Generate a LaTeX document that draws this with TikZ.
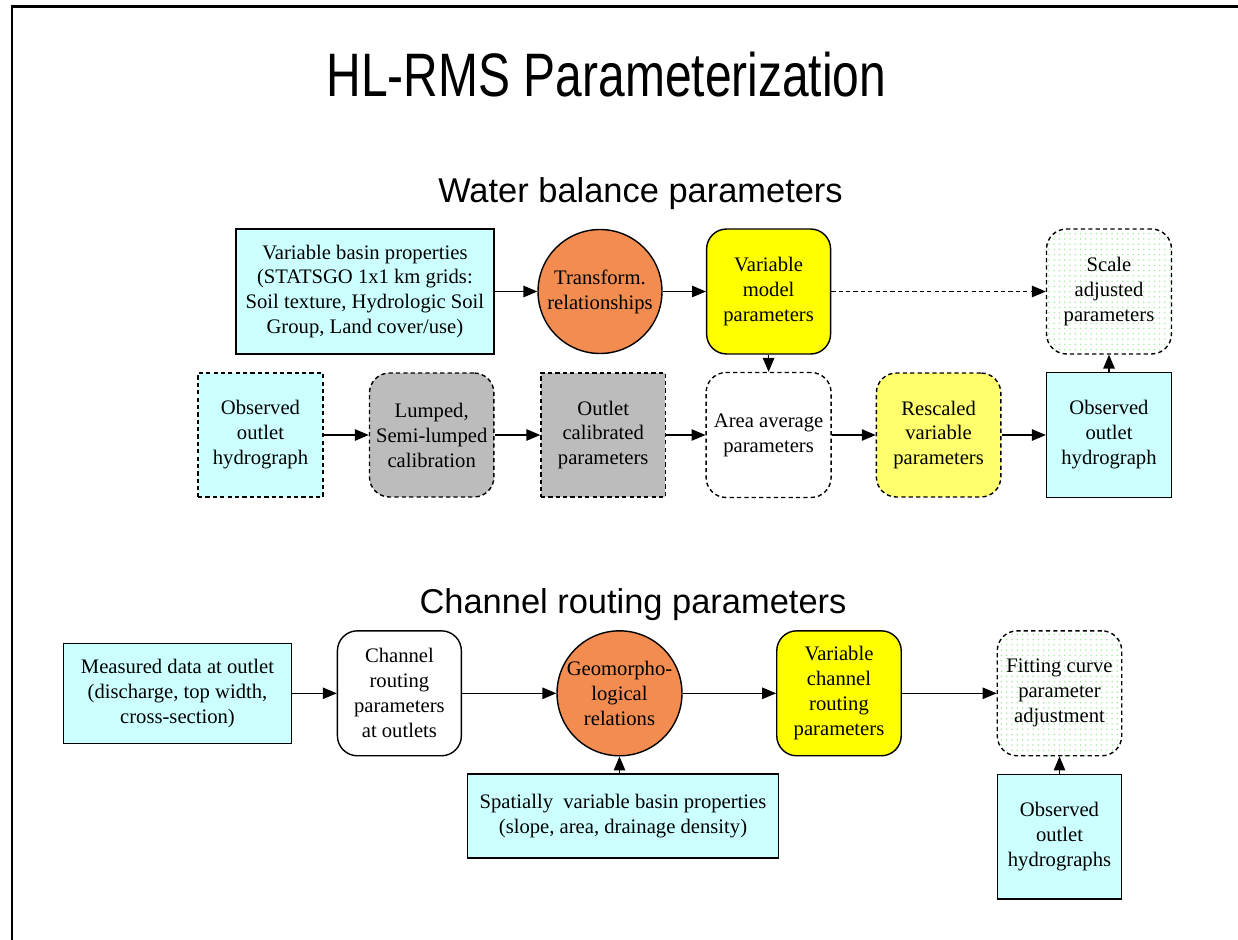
\documentclass[tikz,border=0pt]{standalone}
\usepackage{fontspec}
\setmainfont{Liberation Serif}
\newfontfamily\headfont{Liberation Sans}
\usetikzlibrary{arrows,patterns,calc}
\definecolor{box_cyan}{RGB}{204,255,255}
\definecolor{circ_orange}{RGB}{242,140,80}
\definecolor{calib_grey}{RGB}{188,188,188}
\definecolor{par_yellow}{RGB}{255,255,0}
\definecolor{res_yellow}{RGB}{255,255,110}
\definecolor{dot_green}{RGB}{170,235,170}
\tikzstyle{txt}=[align=center,inner sep=0pt,line width=0.8pt,draw=black,
  font=\fontsize{11.75}{14.2}\selectfont]
\tikzstyle{prop}=[txt,rectangle,fill=box_cyan]
\tikzstyle{rel}=[txt,circle,fill=circ_orange,minimum size=2.48cm]
\tikzstyle{par}=[txt,rectangle,rounded corners=0.4cm,fill=par_yellow,
  minimum width=2.48cm,minimum height=2.5cm]
\tikzstyle{dsh}=[dash pattern=on 2.4pt off 1.8pt]
\tikzstyle{adj}=[txt,dsh,rectangle,rounded corners=0.4cm,pattern=dots,
  pattern color=dot_green,minimum width=2.5cm,minimum height=2.5cm]
\tikzstyle{head}=[font=\headfont\fontsize{19.6}{24}\selectfont,anchor=base]
\tikzstyle{none}=[]

\begin{document}
\begin{tikzpicture}[x=0.02cm,y=-0.02cm,>=triangle 45,line width=0.8pt]
        \useasboundingbox (0,0) rectangle (1238,940);
        \draw [line width=1.5pt] (12,940) -- (12,6.5) -- (1238,6.5);
        % titles
        \node [style=head,font=\headfont\fontsize{27.3}{32}\selectfont] (17) at (606.5,96.7)
          {\scalebox{1}[1.28]{HL-RMS Parameterization}};
        \node [style=head] (18) at (640.5,202) {Water balance parameters};
        \node [style=head] (19) at (633,613) {Channel routing parameters};
        % water balance
        \node [style=prop,minimum width=5.16cm,minimum height=2.5cm] (0) at (364.9,291.5)
          {Variable basin properties\\(STATSGO 1x1 km grids:\\Soil texture, Hydrologic Soil\\Group, Land cover/use)};
        \node [style=rel] (1) at (600,291.5) {Transform.\\relationships};
        \node [style=par] (2) at (768.6,291.5) {Variable\\model\\parameters};
        \node [style=adj] (3) at (1109,291.5) {Scale\\adjusted\\parameters};
        \node [style=prop,dsh,minimum width=2.5cm,minimum height=2.48cm] (4) at (260.5,435) {Observed\\outlet\\hydrograph};
        \node [style=txt,dsh,rounded corners=0.4cm,fill=calib_grey,minimum width=2.49cm,minimum height=2.48cm] (5) at (431.7,435)
          {Lumped,\\Semi-lumped\\calibration};
        \node [style=txt,dsh,fill=calib_grey,minimum width=2.49cm,minimum height=2.48cm] (6) at (603.2,435)
          {Outlet\\calibrated\\parameters};
        \node [style=txt,dsh,rounded corners=0.4cm,minimum width=2.5cm,minimum height=2.5cm] (7) at (768.6,435)
          {Area average\\parameters};
        \node [style=par,dsh,fill=res_yellow,minimum width=2.49cm,minimum height=2.48cm] (8) at (938.6,435) {Rescaled\\variable\\parameters};
        \node [style=prop,minimum width=2.5cm,minimum height=2.5cm] (9) at (1109,435) {Observed\\outlet\\hydrograph};
        \draw [->] (0) to (1);
        \draw [->] (1) to (2);
        \draw [->,dsh] (2) to (3);
        \draw [->] (2) to (7);
        \draw [->] (4) to (5);
        \draw [->] (5) to (6);
        \draw [->] (6) to (7);
        \draw [->] (7) to (8);
        \draw [->] (8) to (9);
        \draw [->] (9) to (3);
        % channel routing
        \node [style=prop,minimum width=4.57cm,minimum height=2cm] (10) at (177.5,693.3)
          {Measured data at outlet\\(discharge, top width,\\cross-section)};
        \node [style=txt,rounded corners=0.4cm,minimum width=2.48cm,minimum height=2.5cm] (11) at (399.4,693.3)
          {Channel\\routing\\parameters\\at outlets};
        \node [style=rel,minimum size=2.5cm] (12) at (619.5,693.3) {Geomorpho-\\logical\\relations};
        \node [style=par,minimum width=2.49cm] (13) at (839,693.3) {Variable\\channel\\routing\\parameters};
        \node [style=adj,minimum width=2.49cm] (14) at (1059.5,693.3) {Fitting curve\\parameter\\adjustment};
        \node [style=prop,minimum width=6.22cm,minimum height=1.68cm] (15) at (623,816)
          {Spatially~ variable basin properties\\(slope, area, drainage density)};
        \node [style=prop,minimum width=2.49cm,minimum height=2.5cm] (16) at (1059.5,836.7) {Observed\\outlet\\hydrographs};
        \draw [->] (10) to (11);
        \draw [->] (11) to (12);
        \draw [->] (12) to (13);
        \draw [->] (13) to (14);
        \draw [->] (12 |- 15.north) to (12);
        \draw [->] (16) to (14);
    \end{tikzpicture}
\end{document}
